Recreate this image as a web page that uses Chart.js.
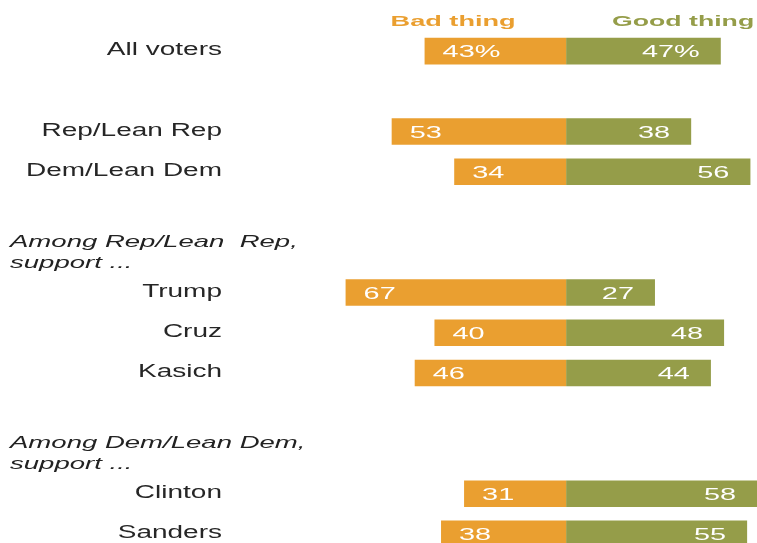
<!DOCTYPE html>
<html>
<head>
<meta charset="utf-8">
<script src="https://cdn.jsdelivr.net/npm/chart.js@4/dist/chart.umd.min.js"></script>
<style>
  html, body { margin: 0; padding: 0; background: #fff; overflow: hidden; }
  body { width: 757px; height: 543px; }
  #wrap { position: relative; width: 757px; height: 554px; }
</style>
</head>
<body>
<div id="wrap"><canvas id="chart"></canvas></div>
<script>
// rows of the chart, '' = empty spacer row
const CATEGORIES = ['All voters', '', 'Rep/Lean Rep', 'Dem/Lean Dem', '', '', 'Trump', 'Cruz', 'Kasich', '', '', 'Clinton', 'Sanders'];
const BAD_THING = [43, null, 53, 34, null, null, 67, 40, 46, null, null, 31, 38];
const GOOD_THING = [47, null, 38, 56, null, null, 27, 48, 44, null, null, 58, 55];
const SERIES_NAMES = ['Bad thing', 'Good thing'];
const SERIES_COLORS = ['#EA9F30', '#959D49'];
// group headings, drawn above the row they introduce
const GROUP_ROWS = [6, 11];
const GROUP_HEADERS = [['Among Rep/Lean  Rep,', 'support ...'], ['Among Dem/Lean Dem,', 'support ...']];

const FONT = '"Liberation Sans", Arial, sans-serif';

function stretchText(ctx, text, x, y, align, sx) {
    ctx.save();
    ctx.translate(x, y);
    ctx.scale(sx, 1);
    ctx.textAlign = align;
    ctx.textBaseline = 'alphabetic';
    ctx.fillText(text, 0, 0);
    ctx.restore();
}

const textPlugin = {
    id: 'textPlugin',
    afterDatasetsDraw(chart) {
        const ctx = chart.ctx;
        const xs = chart.scales.x;
        const ys = chart.scales.y;
        const zero = xs.getPixelForValue(0);

        // legend headings over the two halves
        ctx.font = 'bold 15.5px ' + FONT;
        ctx.fillStyle = SERIES_COLORS[0];
        stretchText(ctx, SERIES_NAMES[0], zero - 113, 26, 'center', 1.75);
        ctx.fillStyle = SERIES_COLORS[1];
        stretchText(ctx, SERIES_NAMES[1], zero + 117, 26, 'center', 1.72);

        CATEGORIES.forEach((cat, i) => {
            const y = ys.getPixelForValue(i);
            if (cat) {
                ctx.font = '17.5px ' + FONT;
                ctx.fillStyle = '#262626';
                stretchText(ctx, cat, 222, y + 4, 'right', 1.6);
            }
            const suffix = i === 0 ? '%' : '';
            ctx.font = '16.5px ' + FONT;
            ctx.fillStyle = '#ffffff';
            if (BAD_THING[i] != null) {
                const left = xs.getPixelForValue(-BAD_THING[i]);
                stretchText(ctx, BAD_THING[i] + suffix, left + 18, y + 6, 'left', 1.75);
            }
            if (GOOD_THING[i] != null) {
                const right = xs.getPixelForValue(GOOD_THING[i]);
                stretchText(ctx, GOOD_THING[i] + suffix, right - 21, y + 6, 'right', 1.75);
            }
        });

        ctx.font = 'italic 17px ' + FONT;
        ctx.fillStyle = '#222222';
        GROUP_HEADERS.forEach((lines, g) => {
            const y = ys.getPixelForValue(GROUP_ROWS[g]);
            stretchText(ctx, lines[0], 10, y - 46, 'left', 1.62);
            stretchText(ctx, lines[1], 10, y - 25, 'left', 1.62);
        });
    }
};

new Chart(document.getElementById('chart'), {
    type: 'bar',
    data: {
        labels: CATEGORIES,
        datasets: [
            {
                label: SERIES_NAMES[0],
                data: BAD_THING.map(v => v == null ? null : -v),
                backgroundColor: SERIES_COLORS[0],
                barPercentage: 0.66,
                categoryPercentage: 1,
            },
            {
                label: SERIES_NAMES[1],
                data: GOOD_THING,
                backgroundColor: SERIES_COLORS[1],
                barPercentage: 0.66,
                categoryPercentage: 1,
            },
        ],
    },
    options: {
        indexAxis: 'y',
        responsive: true,
        maintainAspectRatio: false,
        animation: false,
        devicePixelRatio: 1,
        layout: { padding: { top: 31, bottom: 0, left: 0, right: 0 } },
        plugins: { legend: { display: false }, tooltip: { enabled: false } },
        scales: {
            x: { stacked: true, min: -172, max: 58, display: false },
            y: { stacked: true, display: false },
        },
    },
    plugins: [textPlugin],
});
</script>
</body>
</html>
